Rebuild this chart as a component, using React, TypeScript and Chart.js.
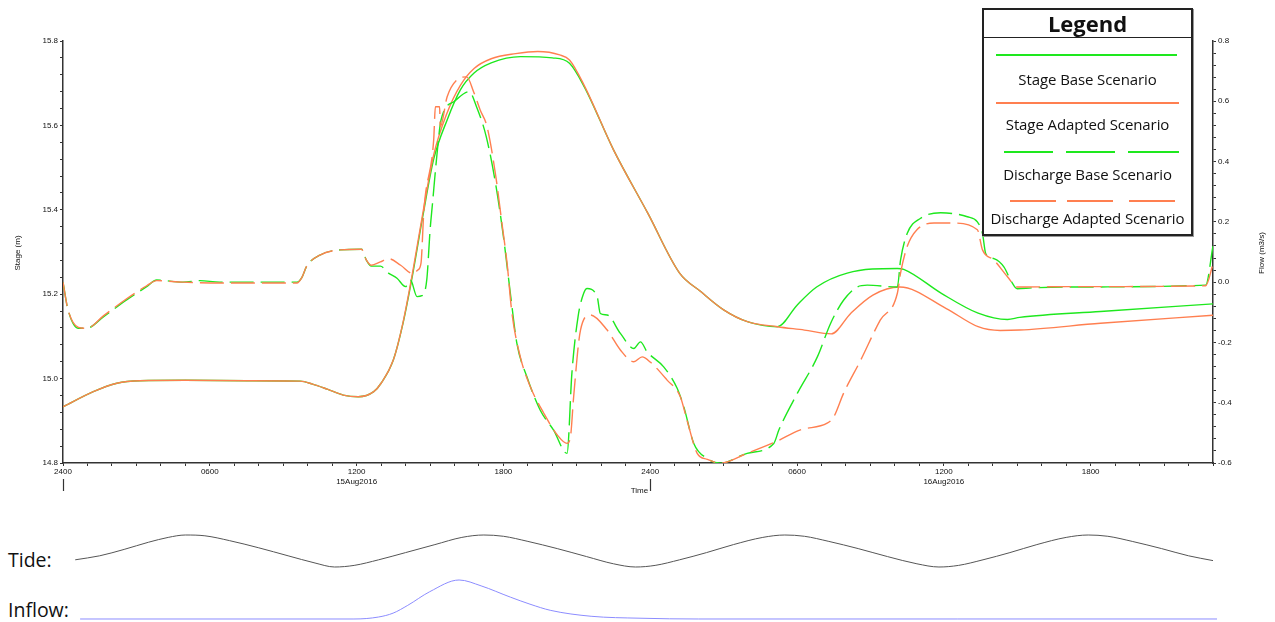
import React, { useEffect, useRef } from 'react';
import { Chart, registerables } from 'chart.js';

Chart.register(...registerables);

// ---------------- data (hours from 15Aug2016 00:00) ----------------
const tickHours = [0, 6, 12, 18, 24, 30, 36, 42];
const tickLabels = ['2400', '0600', '1200', '1800', '2400', '0600', '1200', '1800'];
const dayHours = [12, 36];
const dayLabels = ['15Aug2016', '16Aug2016'];
const dayBoundaryHours = [0, 24];

const legendLabels = ['Stage Base Scenario', 'Stage Adapted Scenario', 'Discharge Base Scenario', 'Discharge Adapted Scenario'];

const stageBase: [number, number][] = [
  [0, 14.933], [1.24, 14.969], [2.2, 14.989], [3.15, 14.995], [5, 14.996], [7.5, 14.995], [9.7, 14.994],
  [10.2, 14.987], [10.8, 14.975], [11.45, 14.961], [12.07, 14.957], [12.7, 14.969], [13.0, 14.989],
  [13.5, 15.044], [13.9, 15.132], [14.3, 15.25], [14.7, 15.383], [15.15, 15.52], [15.7, 15.613],
  [16.24, 15.684], [16.8, 15.724], [17.5, 15.748], [18.7, 15.763], [20.0, 15.76], [20.7, 15.747],
  [21.3, 15.692], [22.5, 15.542], [23.9, 15.392], [25.2, 15.25], [26.05, 15.207], [27.0, 15.163],
  [27.97, 15.135], [29.2, 15.123], [30.0, 15.174], [30.8, 15.217], [32.05, 15.25], [34.1, 15.261],
  [34.36, 15.259], [35.9, 15.202], [37.4, 15.155], [38.6, 15.14], [39.1, 15.145], [42.4, 15.159], [47, 15.177],
];

const stageAdapted: [number, number][] = [
  [0, 14.933], [1.24, 14.969], [2.2, 14.989], [3.15, 14.995], [5, 14.996], [7.5, 14.995], [9.7, 14.994],
  [10.2, 14.987], [10.8, 14.975], [11.45, 14.961], [12.07, 14.957], [12.7, 14.969], [13.0, 14.989],
  [13.5, 15.044], [13.9, 15.134], [14.3, 15.255], [14.7, 15.39], [15.15, 15.53], [15.7, 15.63],
  [16.24, 15.695], [16.8, 15.735], [17.5, 15.758], [18.5, 15.77], [19.4, 15.775], [20.3, 15.767],
  [20.7, 15.755], [21.3, 15.695], [22.5, 15.542], [23.9, 15.392], [25.2, 15.25], [26.05, 15.207],
  [27.0, 15.163], [27.97, 15.135], [29.2, 15.123], [30.3, 15.115], [31.4, 15.106], [32.2, 15.155],
  [33.1, 15.198], [34.2, 15.217], [36.1, 15.166], [37.4, 15.123], [38.3, 15.114], [39.1, 15.115],
  [42.4, 15.131], [47, 15.15],
];

const dischargeBase: [number, number][] = [
  [0, 0.0], [0.2, -0.09], [0.63, -0.153], [0.97, -0.153], [1.65, -0.115], [2.6, -0.059], [3.42, -0.015],
  [3.83, 0.007], [4.9, 0.0], [5.6, 0.005], [6.4, 0.0], [9.56, 0.0], [9.76, 0.015], [9.96, 0.053],
  [10.5, 0.09], [11.33, 0.107], [12.2, 0.109], [12.4, 0.073], [12.6, 0.053], [12.97, 0.053], [13.3, 0.03],
  [13.65, 0.013], [14.0, -0.015], [14.2, 0.007], [14.47, -0.048], [14.67, -0.045], [14.87, 0.01],
  [15.0, 0.17], [15.1, 0.26], [15.28, 0.42], [15.45, 0.538], [16.0, 0.6], [16.6, 0.632], [16.9, 0.582],
  [17.3, 0.482], [17.7, 0.317], [18.0, 0.151], [18.3, -0.048], [18.55, -0.203], [18.96, -0.314],
  [19.5, -0.424], [20.05, -0.491], [20.6, -0.568], [20.8, -0.3], [21.05, -0.115], [21.28, -0.037],
  [21.42, -0.021], [21.83, -0.048], [21.96, -0.104], [22.24, -0.109], [22.78, -0.17], [23.33, -0.22],
  [23.6, -0.198], [23.87, -0.231], [24.55, -0.281], [25.1, -0.352], [25.37, -0.413], [25.78, -0.535],
  [26.33, -0.585], [26.87, -0.601], [27.96, -0.568], [29.05, -0.535], [29.26, -0.49], [30.01, -0.369],
  [30.83, -0.248], [31.37, -0.137], [31.9, -0.06], [32.46, -0.016], [32.87, -0.01], [34.1, -0.016],
  [34.23, 0.073], [34.5, 0.161], [35.05, 0.212], [35.87, 0.23], [36.96, 0.217], [37.37, 0.2],
  [37.58, 0.161], [37.71, 0.095], [38.05, 0.078], [38.46, 0.05], [38.74, 0.005], [39.0, -0.022],
  [39.6, -0.019], [41.0, -0.016], [46.7, -0.01], [47, 0.12],
];

const dischargeAdapted: [number, number][] = [
  [0, 0.0], [0.2, -0.09], [0.63, -0.15], [0.97, -0.153], [1.65, -0.112], [2.6, -0.055], [3.42, -0.012],
  [3.83, 0.005], [4.9, 0.0], [6.4, -0.003], [9.56, -0.003], [9.76, 0.015], [9.96, 0.053], [10.5, 0.09],
  [11.33, 0.107], [12.2, 0.109], [12.4, 0.073], [12.6, 0.056], [12.97, 0.067], [13.3, 0.078],
  [13.8, 0.056], [14.3, 0.028], [14.5, 0.04], [14.63, 0.062], [14.75, 0.239], [15.15, 0.472],
  [15.22, 0.582], [15.39, 0.582], [15.42, 0.516], [15.7, 0.615], [16.1, 0.671], [16.5, 0.681],
  [16.78, 0.632], [17.05, 0.571], [17.33, 0.516], [17.67, 0.361], [17.94, 0.195], [18.15, 0.062],
  [18.35, -0.104], [18.69, -0.248], [19.1, -0.347], [19.65, -0.435], [20.2, -0.507], [20.6, -0.535],
  [20.74, -0.513], [20.87, -0.38], [21.15, -0.159], [21.55, -0.109], [22.24, -0.159], [22.78, -0.225],
  [23.33, -0.264], [23.67, -0.248], [24.0, -0.265], [24.69, -0.325], [25.23, -0.38], [25.5, -0.457],
  [25.92, -0.568], [26.33, -0.588], [26.87, -0.601], [27.96, -0.568], [29.12, -0.53], [30.14, -0.49],
  [31.23, -0.468], [31.5, -0.447], [31.9, -0.369], [32.6, -0.259], [33.4, -0.126], [34.1, -0.037],
  [34.23, 0.03], [34.5, 0.118], [34.9, 0.174], [35.6, 0.196], [36.4, 0.196], [37.37, 0.174],
  [37.58, 0.107], [38.05, 0.073], [38.6, 0.018], [39.0, -0.016], [41, -0.015], [46.7, -0.012], [47, 0.06],
];

const tide: [number, number][] = [
  [0.5, -0.55], [1.5, -0.3], [2.5, 0.1], [3.5, 0.55], [4.3, 0.85], [5.0, 1.0], [5.8, 0.95], [6.8, 0.65],
  [8.0, 0.2], [9.2, -0.3], [10.3, -0.75], [11.1, -1.0], [11.9, -0.9], [12.9, -0.55], [14.0, -0.1],
  [15.2, 0.4], [16.3, 0.85], [17.2, 1.0], [18.0, 0.92], [19.0, 0.6], [20.2, 0.15], [21.4, -0.35],
  [22.5, -0.8], [23.4, -1.0], [24.2, -0.9], [25.2, -0.55], [26.3, -0.1], [27.4, 0.4], [28.6, 0.85],
  [29.5, 1.0], [30.3, 0.92], [31.3, 0.6], [32.5, 0.15], [33.7, -0.35], [34.9, -0.8], [35.8, -1.0],
  [36.6, -0.9], [37.6, -0.55], [38.7, -0.1], [39.8, 0.4], [41.0, 0.85], [41.9, 1.0], [42.7, 0.92],
  [43.7, 0.6], [44.9, 0.15], [46.0, -0.3], [47.0, -0.6],
];

const inflow: [number, number][] = [
  [0.7, 0], [11.9, 0], [12.9, 0.05], [13.5, 0.15], [14.1, 0.35], [15.0, 0.7], [16.2, 1.0], [17.1, 0.85],
  [18.3, 0.56], [19.1, 0.38], [19.95, 0.22], [21.6, 0.07], [23.6, 0.02], [26, 0.0], [47.2, 0],
];

// ---------------- styling ----------------
const GREEN = '#1ee81e';
const ORANGE = '#ff7f50';
const AXIS = '#333';
const TICK_FONT = { size: 8, family: '"Liberation Sans", Arial, sans-serif' };

const toXY = (arr: [number, number][]) => arr.map(([x, y]) => ({ x, y }));

const isMajor = (v: number) => Math.abs(v * 5 - Math.round(v * 5)) < 1e-6;

const axisExtras = {
  id: 'axisExtras',
  afterDraw(chart: any) {
    const { ctx, scales } = chart;
    const xs = scales.x;
    ctx.save();
    ctx.fillStyle = '#111';
    ctx.strokeStyle = AXIS;
    ctx.lineWidth = 1.2;
    ctx.font = '8px "Liberation Sans", Arial, sans-serif';
    ctx.textAlign = 'center';
    ctx.textBaseline = 'middle';
    const midY = 253;
    // left title
    ctx.save();
    ctx.translate(18, midY);
    ctx.rotate(-Math.PI / 2);
    ctx.fillText('Stage (m)', 0, 0);
    ctx.restore();
    // right title
    ctx.save();
    ctx.translate(1262, midY);
    ctx.rotate(-Math.PI / 2);
    ctx.fillText('Flow (m3/s)', 0, 0);
    ctx.restore();
    // day boundary ticks
    dayBoundaryHours.forEach((h) => {
      const px = Math.round(xs.getPixelForValue(h)) + 0.5;
      ctx.beginPath();
      ctx.moveTo(px, xs.top + 16);
      ctx.lineTo(px, xs.top + 28);
      ctx.stroke();
    });
    const tpx = xs.getPixelForValue(dayBoundaryHours[1]);
    ctx.textAlign = 'right';
    ctx.fillText('Time', tpx - 2, xs.top + 28);
    ctx.restore();
  },
};

function MainChart() {
  const ref = useRef<HTMLCanvasElement>(null);
  useEffect(() => {
    const ds = (label: string, arr: [number, number][], color: string, axis: string, dashed: boolean, order: number) => ({
      label,
      data: toXY(arr),
      borderColor: color,
      backgroundColor: color,
      borderWidth: 1.4,
      borderDash: dashed ? [24, 7] : [],
      pointRadius: 0,
      cubicInterpolationMode: 'monotone' as const,
      yAxisID: axis,
      order,
      fill: false,
    });
    const chart = new Chart(ref.current!, {
      type: 'line',
      data: {
        datasets: [
          ds(legendLabels[0], stageBase, GREEN, 'y', false, 4),
          ds(legendLabels[1], stageAdapted, ORANGE, 'y', false, 3),
          ds(legendLabels[2], dischargeBase, GREEN, 'y1', true, 2),
          ds(legendLabels[3], dischargeAdapted, ORANGE, 'y1', true, 1),
        ],
      },
      options: {
        animation: false,
        responsive: false,
        layout: { padding: { top: 41, left: 0, right: 0, bottom: 0 } },
        plugins: { legend: { display: false }, tooltip: { enabled: false } },
        scales: {
          x: {
            type: 'linear',
            min: 0,
            max: 47,
            afterFit: (s: any) => { s.height = 37; },
            grid: { display: true, drawOnChartArea: false, drawTicks: true, tickLength: 3, tickColor: AXIS },
            border: { display: true, color: AXIS, width: 1.5 },
            ticks: {
              stepSize: 1,
              autoSkip: false,
              maxRotation: 0,
              minRotation: 0,
              padding: 1,
              color: '#111',
              font: TICK_FONT,
              callback: (v: any) => {
                const i = tickHours.indexOf(v);
                if (i < 0) return '';
                const d = dayHours.indexOf(v);
                return d >= 0 ? [tickLabels[i], dayLabels[d]] : tickLabels[i];
              },
            },
          },
          y: {
            type: 'linear',
            position: 'left',
            min: 14.8,
            max: 15.8,
            afterFit: (s: any) => { s.width = 63; },
            grid: { display: true, drawOnChartArea: false, drawTicks: true, tickLength: 3, tickColor: AXIS },
            border: { display: true, color: AXIS, width: 1.5 },
            ticks: {
              stepSize: 0.04,
              autoSkip: false,
              padding: 2,
              color: '#111',
              font: TICK_FONT,
              callback: (v: any) => (isMajor(v) ? Number(v).toFixed(1) : ''),
            },
          },
          y1: {
            type: 'linear',
            position: 'right',
            min: -0.6,
            max: 0.8,
            afterFit: (s: any) => { s.width = 62; },
            grid: { display: true, drawOnChartArea: false, drawTicks: true, tickLength: 3, tickColor: AXIS },
            border: { display: true, color: AXIS, width: 1.5 },
            ticks: {
              stepSize: 0.04,
              autoSkip: false,
              padding: 2,
              color: '#111',
              font: TICK_FONT,
              callback: (v: any) => (isMajor(v) ? (Math.abs(v) < 1e-9 ? '0.0' : Number(v).toFixed(1)) : ''),
            },
          },
        },
      },
      plugins: [axisExtras],
    });
    return () => chart.destroy();
  }, []);
  return <canvas ref={ref} width={1275} height={500} style={{ position: 'absolute', left: 0, top: 0 }} />;
}

function MiniChart(props: { data: [number, number][]; color: string; left: number; top: number; width: number; height: number; xMax: number; yMin: number; yMax: number }) {
  const ref = useRef<HTMLCanvasElement>(null);
  useEffect(() => {
    const chart = new Chart(ref.current!, {
      type: 'line',
      data: {
        datasets: [{
          data: toXY(props.data),
          borderColor: props.color,
          borderWidth: 1,
          pointRadius: 0,
          cubicInterpolationMode: 'monotone',
          fill: false,
          clip: false as any,
        }],
      },
      options: {
        animation: false,
        responsive: false,
        layout: { padding: 0 },
        plugins: { legend: { display: false }, tooltip: { enabled: false } },
        scales: {
          x: { type: 'linear', min: 0, max: props.xMax, display: false },
          y: { type: 'linear', min: props.yMin, max: props.yMax, display: false },
        },
      },
    });
    return () => chart.destroy();
  }, []);
  return <canvas ref={ref} width={props.width} height={props.height} style={{ position: 'absolute', left: props.left, top: props.top }} />;
}

const legendText = (text: string, y: number) => (
  <div style={{ position: 'absolute', left: 982, width: 211, top: y - 10, height: 20, lineHeight: '20px', textAlign: 'center', fontFamily: '"Open Sans", sans-serif', fontSize: 15, color: '#111', letterSpacing: '-0.1px', whiteSpace: 'nowrap' }}>{text}</div>
);

const legendLine = (x1: number, x2: number, y: number, color: string) => (
  <div style={{ position: 'absolute', left: x1, top: y - 1, width: x2 - x1, height: 2, background: color }} />
);

export default function App() {
  return (
    <div style={{ position: 'absolute', left: 0, top: 0, width: 1275, height: 622, overflow: 'hidden', background: '#fff' }}>
      <MainChart />
      {/* Legend */}
      <div style={{ position: 'absolute', left: 982, top: 8, width: 211, height: 228, boxSizing: 'border-box', border: '2px solid #222', background: '#fff', boxShadow: '1px 1px 0 #999' }} />
      <div style={{ position: 'absolute', left: 984, top: 37, width: 207, height: 1, background: '#222' }} />
      <div style={{ position: 'absolute', left: 982, width: 211, top: 8, height: 30, lineHeight: '30px', textAlign: 'center', fontFamily: '"Open Sans", sans-serif', fontWeight: 700, fontSize: 22, color: '#111' }}>Legend</div>
      {legendLine(996, 1177, 55, GREEN)}
      {legendText(legendLabels[0], 79)}
      {legendLine(996, 1179, 103, ORANGE)}
      {legendText(legendLabels[1], 124)}
      {legendLine(1004, 1053, 152, GREEN)}
      {legendLine(1066, 1115, 152, GREEN)}
      {legendLine(1128, 1179, 152, GREEN)}
      {legendText(legendLabels[2], 174)}
      {legendLine(1010, 1056, 201, ORANGE)}
      {legendLine(1067, 1113, 201, ORANGE)}
      {legendLine(1129, 1175, 201, ORANGE)}
      {legendText(legendLabels[3], 218)}
      {/* Tide and inflow */}
      <div style={{ position: 'absolute', left: 8, top: 547, fontFamily: '"Open Sans", sans-serif', fontSize: 19.5, color: '#111', lineHeight: '26px' }}>Tide:</div>
      <div style={{ position: 'absolute', left: 8, top: 597, fontFamily: '"Open Sans", sans-serif', fontSize: 19.5, color: '#111', lineHeight: '26px' }}>Inflow:</div>
      <MiniChart data={tide} color="#555" left={63} top={525} width={1150} height={50} xMax={47} yMin={-1.5} yMax={1.625} />
      <MiniChart data={inflow} color="#8c8cff" left={63} top={572} width={1155} height={50} xMax={47.24} yMin={-0.077} yMax={1.205} />
    </div>
  );
}
